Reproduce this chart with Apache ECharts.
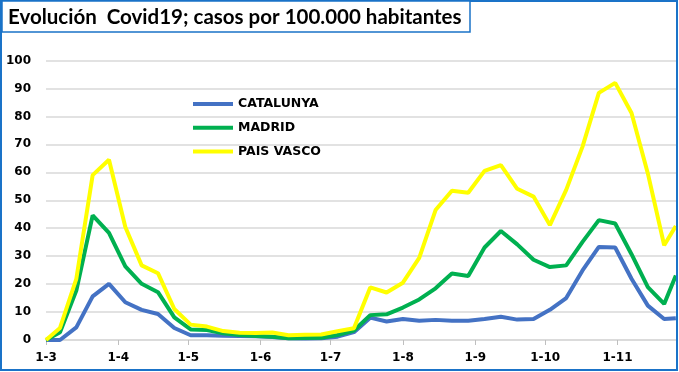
<!DOCTYPE html>
<html>
<head>
<meta charset="utf-8">
<script src="https://cdn.jsdelivr.net/npm/echarts@6/dist/echarts.min.js"></script>
<style>
html,body{margin:0;padding:0;background:#fff;}
#chart{width:679px;height:372px;}
</style>
</head>
<body>
<div id="chart"></div>
<script>
// Dates (yyyy-mm-dd) of the weekly points
var dates = ["2020-03-01","2020-03-07","2020-03-14","2020-03-21","2020-03-28","2020-04-04","2020-04-11","2020-04-18","2020-04-25",
  "2020-05-02","2020-05-09","2020-05-16","2020-05-23","2020-05-30","2020-06-06","2020-06-13","2020-06-20","2020-06-27",
  "2020-07-04","2020-07-11","2020-07-18","2020-07-25","2020-08-01","2020-08-08","2020-08-15","2020-08-22","2020-08-29",
  "2020-09-05","2020-09-12","2020-09-19","2020-09-26","2020-10-03","2020-10-10","2020-10-17","2020-10-24","2020-10-31",
  "2020-11-07","2020-11-14","2020-11-21","2020-11-26"];
var catalunya = [0,0,4.5,15.6,20.1,13.5,10.8,9.3,4.3,1.7,1.7,1.5,1.4,1.3,1.1,0.6,0.5,0.6,1.2,2.8,
  8.0,6.6,7.5,6.9,7.2,6.9,6.9,7.5,8.3,7.3,7.5,10.8,15.0,24.9,33.3,33.1,21.9,12.3,7.5,7.8];
var madrid = [0,2.8,17.7,44.6,38.3,26.3,20.1,17.1,8.1,3.8,3.6,2.4,1.8,1.4,1.2,0.6,0.7,0.8,1.8,3.4,
  8.9,9.2,11.6,14.5,18.5,23.8,22.9,33.1,39.0,34.2,28.7,26.1,26.7,35.1,42.9,41.7,30.7,18.9,12.9,23.1];
var paisVasco = [0,4.3,21.9,59.0,64.5,40.4,26.7,23.9,11.1,5.5,4.8,3.2,2.6,2.5,2.7,1.7,1.9,2.0,3.1,4.2,
  18.8,17.0,20.5,29.4,46.5,53.4,52.7,60.5,62.6,54.1,51.3,41.1,53.7,69.2,88.4,92.0,81.2,59.6,33.9,40.8];
var seriesNames = ["CATALUNYA","MADRID","PAIS VASCO"];
var monthTicks = ["2020-03-01","2020-04-01","2020-05-01","2020-06-01","2020-07-01","2020-08-01","2020-09-01","2020-10-01","2020-11-01"];
var titleText = "Evolución  Covid19; casos por 100.000 habitantes";

function ts(s){var p=s.split("-");return Date.UTC(+p[0],+p[1]-1,+p[2]);}
function pairs(vals){return vals.map(function(v,i){return [ts(dates[i]),v];});}
var tickVals = monthTicks.map(ts);
var xMin = ts("2020-03-01");
var xMax = ts("2020-11-26") + 12*3600*1000;

var chart = echarts.init(document.getElementById('chart'), null, {renderer:'canvas'});
var axisFont = {fontFamily:'DejaVu Sans', fontWeight:'bold', fontSize:12, color:'#000'};
chart.setOption({
  animation:false,
  backgroundColor:'#fff',
  color:['#4472C4','#00B050','#FFFF00'],
  grid:{left:46,right:2,top:60.5,bottom:32,containLabel:false},
  legend:{
    orient:'vertical', left:193, top:97, padding:0, icon:'rect', itemWidth:40, itemHeight:4, itemGap:9.7,
    data:seriesNames,
    textStyle:{fontFamily:'DejaVu Sans', fontWeight:'bold', fontSize:12.5, color:'#000', lineHeight:14}
  },
  xAxis:{
    type:'value', min:xMin, max:xMax,
    axisLine:{show:true, lineStyle:{color:'#d9d9d9', width:1.5}},
    axisTick:{show:true, customValues:tickVals, length:5, lineStyle:{color:'#bfbfbf'}},
    axisLabel:Object.assign({customValues:tickVals, margin:12, formatter:function(v){var d=new Date(v);return '1-'+(d.getUTCMonth()+1);}}, axisFont),
    splitLine:{show:false}
  },
  yAxis:{
    type:'value', min:0, max:100, interval:10,
    axisLine:{show:false}, axisTick:{show:false},
    axisLabel:Object.assign({margin:15}, axisFont),
    splitLine:{show:true, lineStyle:{color:'#d9d9d9', width:1.5}}
  },
  series:[
    {name:seriesNames[0], type:'line', data:pairs(catalunya), showSymbol:false, symbol:'none', lineStyle:{width:4}},
    {name:seriesNames[1], type:'line', data:pairs(madrid), showSymbol:false, symbol:'none', lineStyle:{width:4}},
    {name:seriesNames[2], type:'line', data:pairs(paisVasco), showSymbol:false, symbol:'none', lineStyle:{width:4}}
  ],
  graphic:[
    {type:'rect', shape:{x:1, y:1, width:676, height:369}, style:{fill:'none', stroke:'#1a73c8', lineWidth:2}, silent:true, z:100},
    {type:'rect', shape:{x:2, y:1, width:468, height:31}, style:{fill:'#fff', stroke:'#1a73c8', lineWidth:1.5}, silent:true, z:101},
    {type:'text', x:8, y:17, style:{text:titleText, font:'bold 20.5px Lato', fill:'#000', textVerticalAlign:'middle'}, silent:true, z:102}
  ]
});
</script>
</body>
</html>
